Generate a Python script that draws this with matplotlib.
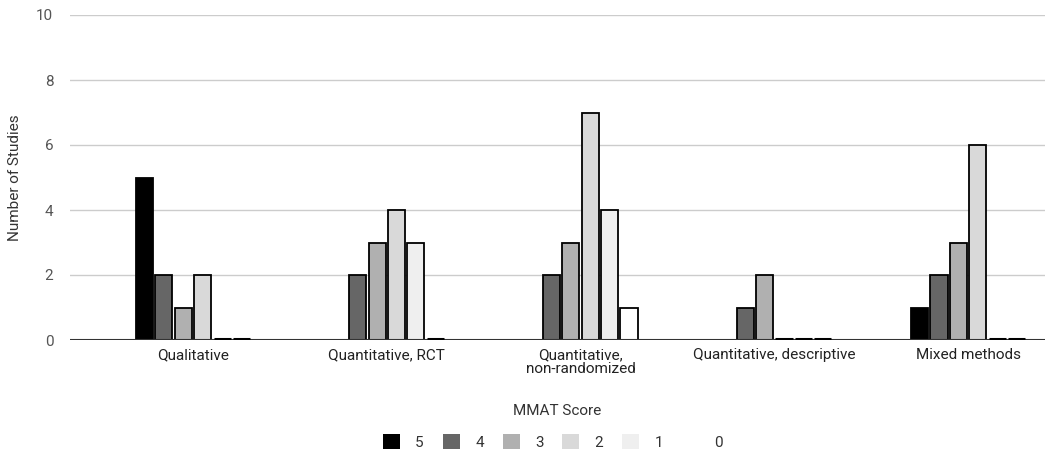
import numpy as np
import matplotlib; matplotlib.use("Agg")
import matplotlib.pyplot as plt
from matplotlib.patches import Patch

CATEGORIES = ["Qualitative", "Quantitative, RCT", "Quantitative,\nnon-randomized",
              "Quantitative, descriptive", "Mixed methods"]
SCORES = ["5", "4", "3", "2", "1", "0"]
# None = no bar drawn, 0 = flat bar on the baseline
SCORE_5 = [5, None, None, None, 1]
SCORE_4 = [2, 2, 2, 1, 2]
SCORE_3 = [1, 3, 3, 2, 3]
SCORE_2 = [2, 4, 7, 0, 6]
SCORE_1 = [0, 3, 4, 0, 0]
SCORE_0 = [0, 0, 1, 0, 0]
SERIES = [SCORE_5, SCORE_4, SCORE_3, SCORE_2, SCORE_1, SCORE_0]
COLORS = ["#000000", "#666666", "#b0b0b0", "#d9d9d9", "#efefef", "#ffffff"]

plt.rcParams["font.family"] = ["Roboto", "DejaVu Sans"]

fig = plt.figure(figsize=(10.5, 4.59), dpi=100)
ax = fig.add_axes([70 / 1050, 1 - 340 / 459, 975 / 1050, 325 / 459])

x = np.arange(len(CATEGORIES))
w = 0.1
for i, (vals, col) in enumerate(zip(SERIES, COLORS)):
    for xi, v in zip(x, vals):
        if v is None:
            continue
        if v == 0:
            # zero counts show as a flat dark stub on the axis
            ax.bar(xi + (i - 2.5) * w, 0, w * 0.88, bottom=0.03, color=col,
                   edgecolor="black", linewidth=2.2, zorder=5)
        else:
            ax.bar(xi + (i - 2.5) * w, v, w * 0.88, color=col, edgecolor="black",
                   linewidth=1.3, zorder=3)

ax.set_xlim(-0.635, 4.397)
ax.set_ylim(0, 10)
ax.set_yticks([0, 2, 4, 6, 8, 10])
ax.grid(axis="y", color="#cccccc", lw=1, zorder=0)
ax.axhline(0, color="#333333", lw=1.5, zorder=4)
for s in ax.spines.values():
    s.set_visible(False)
ax.tick_params(axis="y", length=0, pad=12, labelsize=11, labelcolor="#555555")
ax.tick_params(axis="x", length=0, pad=6, labelsize=11, labelcolor="#222222")
ax.set_xticks(x)
ax.set_xticklabels(CATEGORIES, linespacing=1.0)
ax.set_ylabel("Number of Studies", fontsize=11, color="#333333", labelpad=10)
ax.set_xlabel("MMAT Score", fontsize=11, color="#333333", labelpad=20)

handles = [Patch(facecolor=c, edgecolor="none") for c in COLORS]
fig.legend(handles, SCORES, loc="center", bbox_to_anchor=(553 / 1050, 1 - 442 / 459),
           ncol=6, frameon=False, fontsize=11, handlelength=1.1, handleheight=1.1,
           columnspacing=1.25, handletextpad=1.0, labelcolor="#333333")

fig.savefig("out.png", dpi=100)
